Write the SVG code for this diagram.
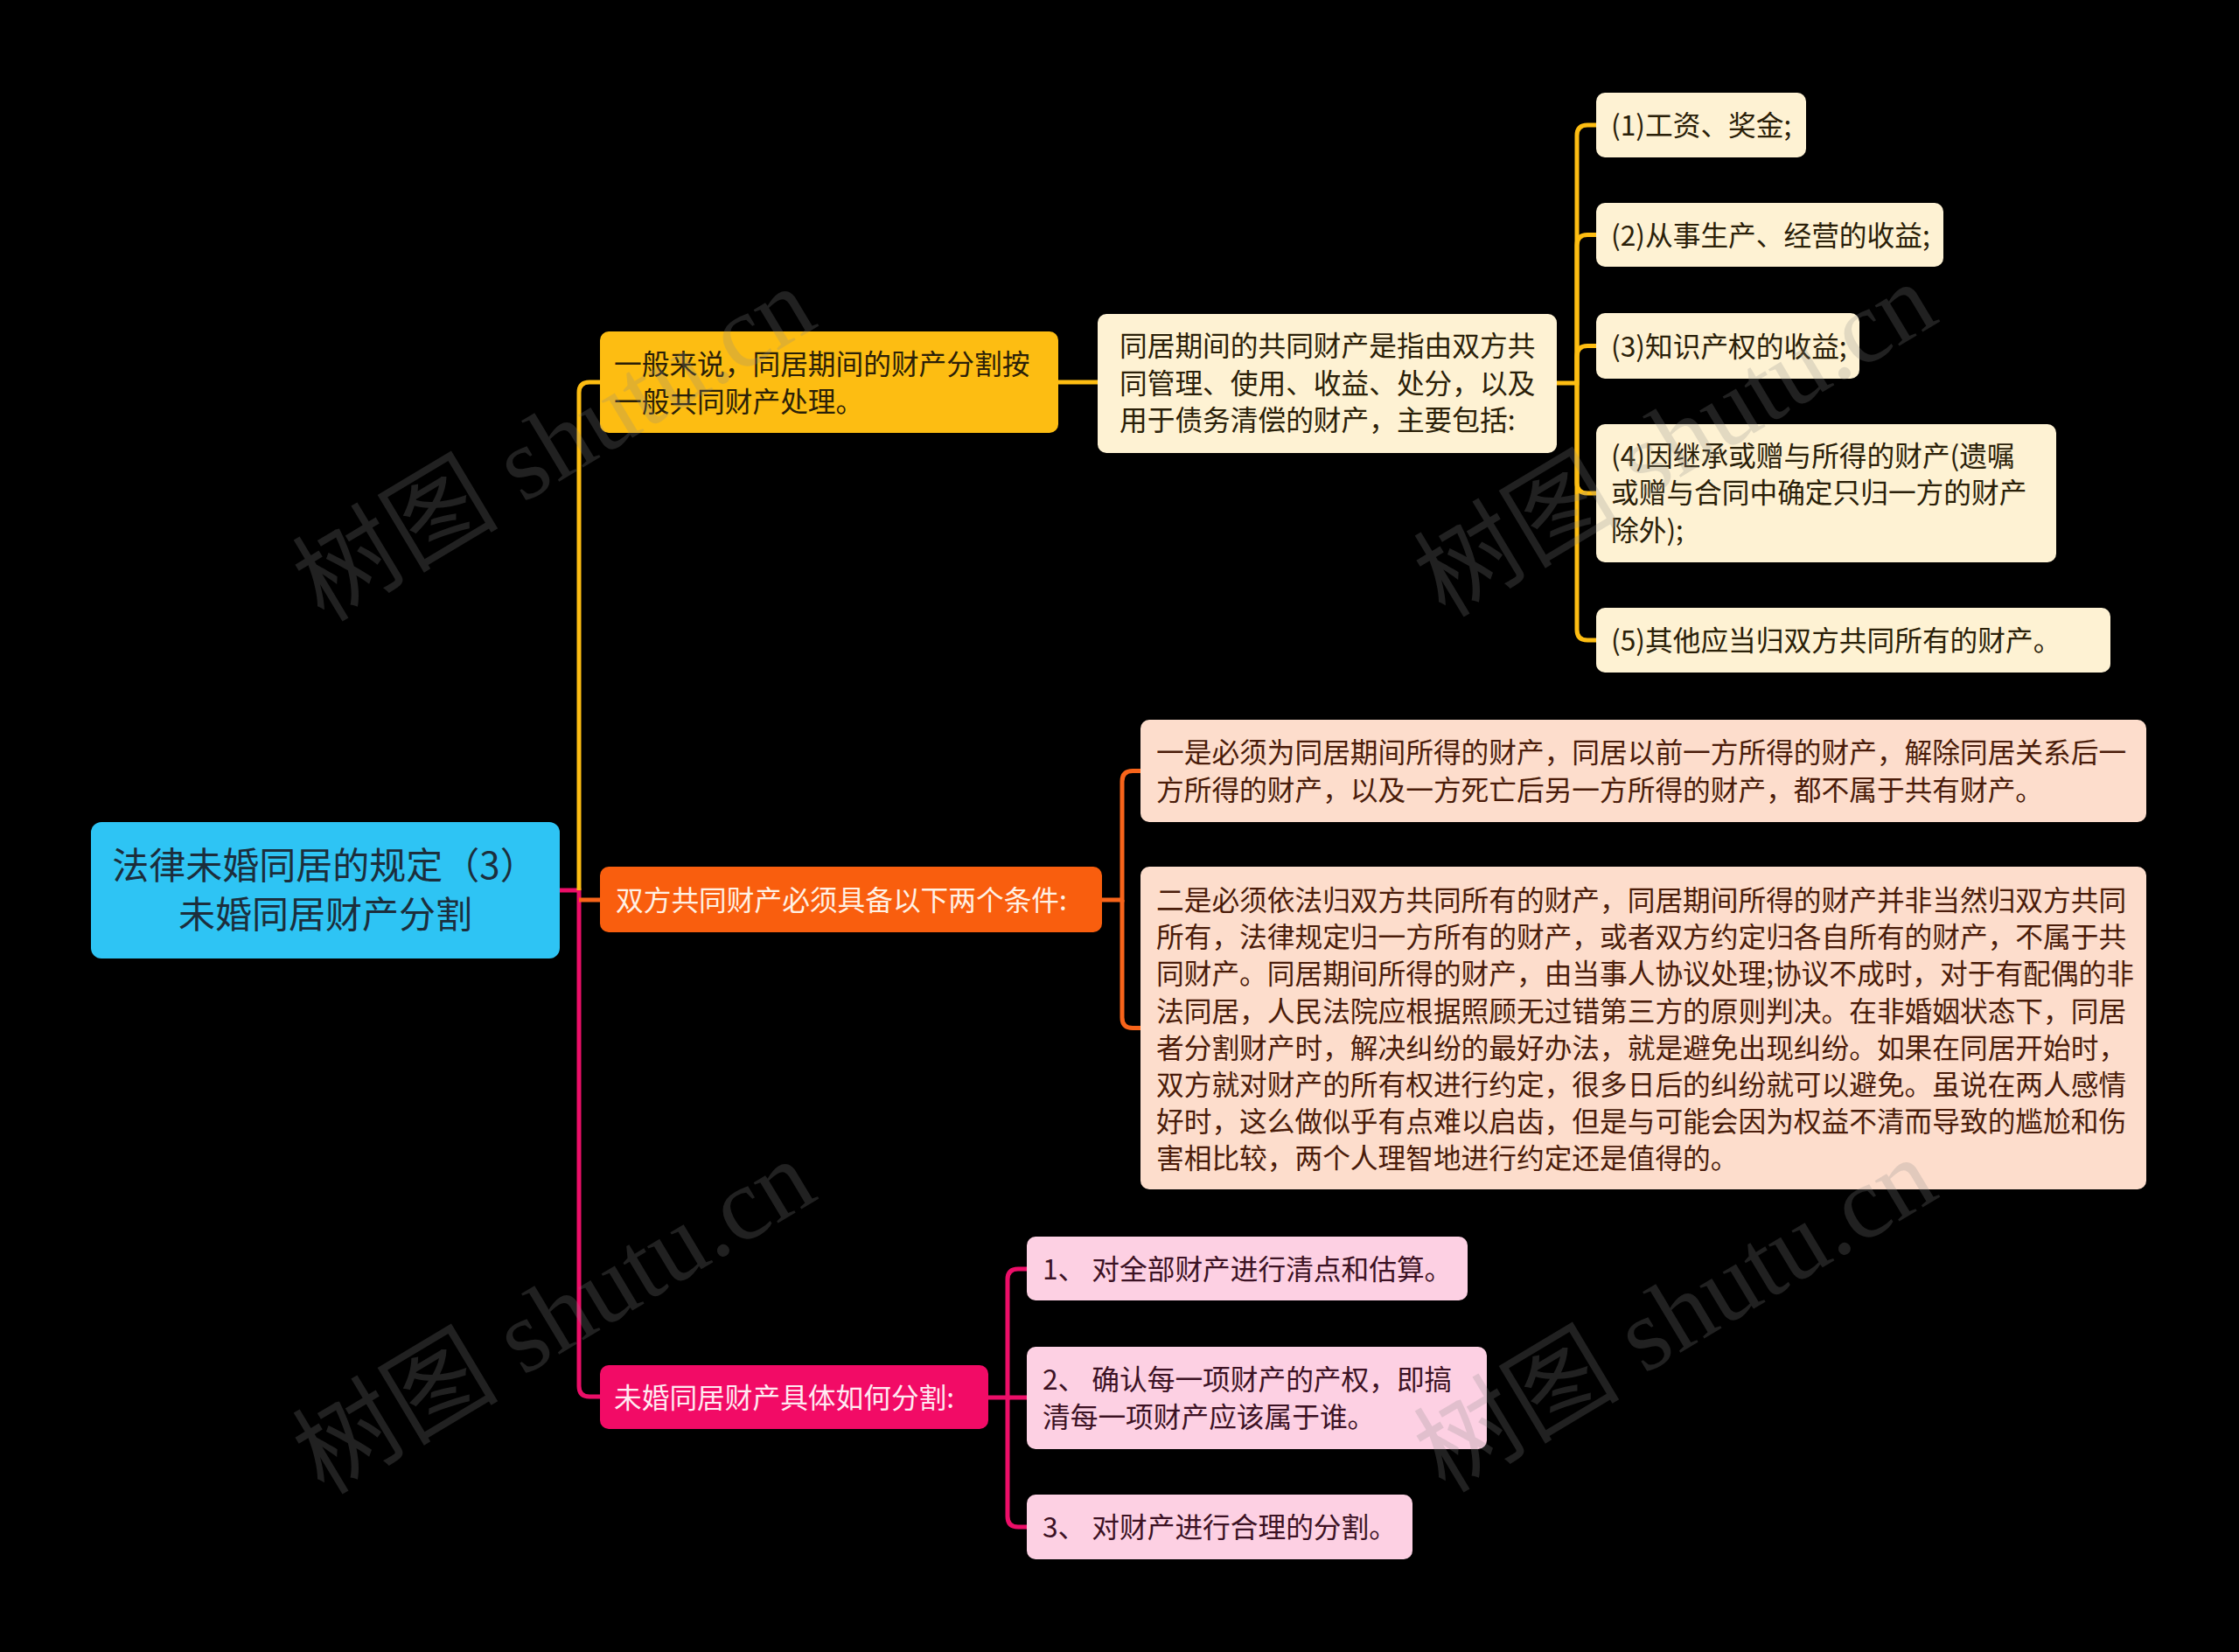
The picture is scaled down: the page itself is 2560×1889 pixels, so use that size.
<svg xmlns="http://www.w3.org/2000/svg" width="2560" height="1889" viewBox="0 0 2560 1889">
<style>
text{font-family:"Noto Sans CJK SC","Noto Sans",sans-serif;font-size:31.7px;}
.c{fill:none;stroke-width:5;stroke-linecap:butt;}
.cy{stroke:#FDBD12;}
.co{stroke:#F8641A;}
.cp{stroke:#EC0E68;}
.tdark{fill:#2a2008;}
.tpeach{fill:#4a1c0a;}
.tpink{fill:#3c1224;}
.wm{font-family:"Liberation Serif","Noto Sans CJK SC",serif;font-size:118px;fill:#8a8a8a;fill-opacity:0.24;}
</style>
<rect x="0" y="0" width="2560" height="1889" fill="#000000"/>
<g id="connectors">
<path class="c cp" d="M640,1018 H662 V1585 Q662,1597 674,1597 H686"/>
<path class="c cy" d="M662,1018 V449 Q662,437 674,437 H686"/>
<path class="c co" d="M662,1029 H686"/>
<path class="c cy" d="M1210,437 H1255"/>
<path class="c cy" d="M1780,438 H1803 V155 Q1803,143 1815,143 H1825"/>
<path class="c cy" d="M1803,438 V280.5 Q1803,268.5 1815,268.5 H1825"/>
<path class="c cy" d="M1803,438 V407.5 Q1803,395.5 1815,395.5 H1825"/>
<path class="c cy" d="M1803,438 V552 Q1803,564 1815,564 H1825"/>
<path class="c cy" d="M1803,438 V720 Q1803,732 1815,732 H1825"/>
<path class="c co" d="M1260,1029 H1283 V893.5 Q1283,881.5 1295,881.5 H1304"/>
<path class="c co" d="M1283,1029 V1163.5 Q1283,1175.5 1295,1175.5 H1304"/>
<path class="c cp" d="M1130,1598 H1152 V1463 Q1152,1451 1164,1451 H1174"/>
<path class="c cp" d="M1152,1598 H1174"/>
<path class="c cp" d="M1152,1598 V1734 Q1152,1746 1164,1746 H1174"/>
</g>
<g id="root">
<rect x="104" y="940" width="536" height="156" rx="12" fill="#2EC4F4"/>
<text x="371" y="1005" text-anchor="middle" style="font-size:42px" fill="#1c2e3c">法律未婚同居的规定（3）</text>
<text x="372" y="1061" text-anchor="middle" style="font-size:42px" fill="#1c2e3c">未婚同居财产分割</text>
</g>
<g id="branch1">
<rect x="686" y="379" width="524" height="116" rx="10" fill="#FDBD12"/>
<text x="702" y="428" class="tdark">一般来说，同居期间的财产分割按</text>
<text x="702" y="471" class="tdark">一般共同财产处理。</text>
</g>
<g id="node1a">
<rect x="1255" y="359" width="525" height="159" rx="10" fill="#FEF2D3"/>
<text x="1280" y="407" class="tdark">同居期间的共同财产是指由双方共</text>
<text x="1280" y="450" class="tdark">同管理、使用、收益、处分，以及</text>
<text x="1280" y="492" class="tdark">用于债务清偿的财产，主要包括:</text>
</g>
<g id="leaf1">
<rect x="1825" y="106" width="240" height="74" rx="10" fill="#FEF2D3"/>
<text x="1842" y="155" class="tdark">(1)工资、奖金;</text>
</g>
<g id="leaf2">
<rect x="1825" y="232" width="397" height="73" rx="10" fill="#FEF2D3"/>
<text x="1842" y="280.5" class="tdark">(2)从事生产、经营的收益;</text>
</g>
<g id="leaf3">
<rect x="1825" y="358" width="301" height="75" rx="10" fill="#FEF2D3"/>
<text x="1842" y="407.5" class="tdark">(3)知识产权的收益;</text>
</g>
<g id="leaf4">
<rect x="1825" y="485" width="526" height="158" rx="10" fill="#FEF2D3"/>
<text x="1842" y="533" class="tdark">(4)因继承或赠与所得的财产(遗嘱</text>
<text x="1842" y="575" class="tdark">或赠与合同中确定只归一方的财产</text>
<text x="1842" y="618" class="tdark">除外);</text>
</g>
<g id="leaf5">
<rect x="1825" y="695" width="588" height="74" rx="10" fill="#FEF2D3"/>
<text x="1842" y="744" class="tdark">(5)其他应当归双方共同所有的财产。</text>
</g>
<g id="branch2">
<rect x="686" y="991" width="574" height="75" rx="10" fill="#F95E0E"/>
<text x="704" y="1040.5" fill="#FFF1E4">双方共同财产必须具备以下两个条件:</text>
</g>
<g id="node2a">
<rect x="1304" y="823" width="1150" height="117" rx="10" fill="#FDDDCC"/>
<text x="1322" y="872" class="tpeach">一是必须为同居期间所得的财产，同居以前一方所得的财产，解除同居关系后一</text>
<text x="1322" y="915" class="tpeach">方所得的财产，以及一方死亡后另一方所得的财产，都不属于共有财产。</text>
</g>
<g id="node2b">
<rect x="1304" y="991" width="1150" height="369" rx="10" fill="#FDDDCC"/>
<text x="1322" y="1041" class="tpeach">二是必须依法归双方共同所有的财产，同居期间所得的财产并非当然归双方共同</text>
<text x="1322" y="1083" class="tpeach">所有，法律规定归一方所有的财产，或者双方约定归各自所有的财产，不属于共</text>
<text x="1322" y="1125" class="tpeach">同财产。同居期间所得的财产，由当事人协议处理;协议不成时，对于有配偶的非</text>
<text x="1322" y="1168" class="tpeach">法同居，人民法院应根据照顾无过错第三方的原则判决。在非婚姻状态下，同居</text>
<text x="1322" y="1210" class="tpeach">者分割财产时，解决纠纷的最好办法，就是避免出现纠纷。如果在同居开始时，</text>
<text x="1322" y="1252" class="tpeach">双方就对财产的所有权进行约定，很多日后的纠纷就可以避免。虽说在两人感情</text>
<text x="1322" y="1294" class="tpeach">好时，这么做似乎有点难以启齿，但是与可能会因为权益不清而导致的尴尬和伤</text>
<text x="1322" y="1336" class="tpeach">害相比较，两个人理智地进行约定还是值得的。</text>
</g>
<g id="branch3">
<rect x="686" y="1561" width="444" height="73" rx="10" fill="#F20B66"/>
<text x="702" y="1609.5" fill="#FFEAF2">未婚同居财产具体如何分割:</text>
</g>
<g id="node3a">
<rect x="1174" y="1414" width="504" height="73" rx="10" fill="#FDD0E3"/>
<text x="1192" y="1462.5" class="tpink">1、 对全部财产进行清点和估算。</text>
</g>
<g id="node3b">
<rect x="1174" y="1540" width="526" height="117" rx="10" fill="#FDD0E3"/>
<text x="1192" y="1589" class="tpink">2、 确认每一项财产的产权，即搞</text>
<text x="1192" y="1632" class="tpink">清每一项财产应该属于谁。</text>
</g>
<g id="node3c">
<rect x="1174" y="1709" width="441" height="74" rx="10" fill="#FDD0E3"/>
<text x="1192" y="1758" class="tpink">3、 对财产进行合理的分割。</text>
</g>
<g id="watermarks">
<text class="wm" text-anchor="middle" transform="translate(654,542) rotate(-31)">树图 shutu.cn</text>
<text class="wm" text-anchor="middle" transform="translate(654,1540) rotate(-31)">树图 shutu.cn</text>
<text class="wm" text-anchor="middle" transform="translate(1936,537) rotate(-31)">树图 shutu.cn</text>
<text class="wm" text-anchor="middle" transform="translate(1936,1538) rotate(-31)">树图 shutu.cn</text>
</g>
</svg>
